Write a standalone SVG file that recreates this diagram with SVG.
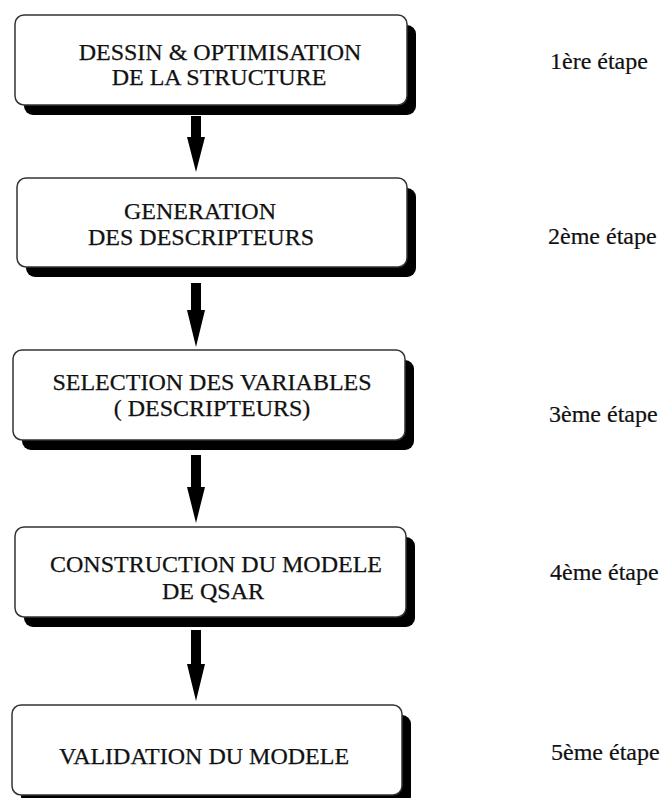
<svg xmlns="http://www.w3.org/2000/svg" width="664" height="798" viewBox="0 0 664 798">
<style>
.box{fill:#fff;stroke:#333;stroke-width:1.5}
.sh{fill:#000}
.t{font-family:"Liberation Serif","Times New Roman",serif;font-size:24px;fill:#111;stroke:#111;stroke-width:0.25;text-anchor:middle}
.lb{font-family:"Liberation Serif","Times New Roman",serif;font-size:24px;fill:#111;stroke:#111;stroke-width:0.2}
.ar{fill:#000}
</style>
<rect width="664" height="798" fill="#fff"/>
<g id="connectors">
<path class="ar" d="M191 116 H201 V137 H205 L196 172 L187 137 H191 Z"/>
<path class="ar" d="M191 283 H201 V310 H205 L196 347 L187 310 H191 Z"/>
<path class="ar" d="M191 455 H201 V487 H205 L196 523 L187 487 H191 Z"/>
<path class="ar" d="M191 630 H201 V664 H205 L196 701 L187 664 H191 Z"/>
</g>
<g id="step1">
<rect class="sh" x="24" y="25" width="392" height="90" rx="9"/>
<rect class="box" x="15" y="15" width="392" height="90" rx="9"/>
<text class="t" x="220" y="60">DESSIN &amp; OPTIMISATION</text>
<text class="t" x="219" y="85">DE LA STRUCTURE</text>
</g>
<g id="step2">
<rect class="sh" x="26" y="188" width="390" height="89" rx="9"/>
<rect class="box" x="17" y="178" width="390" height="89" rx="9"/>
<text class="t" x="200" y="219">GENERATION</text>
<text class="t" x="201" y="245">DES DESCRIPTEURS</text>
</g>
<g id="step3">
<rect class="sh" x="22" y="360" width="392" height="90" rx="9"/>
<rect class="box" x="13" y="350" width="392" height="90" rx="9"/>
<text class="t" x="212" y="390">SELECTION DES VARIABLES</text>
<text class="t" x="212" y="416">( DESCRIPTEURS)</text>
</g>
<g id="step4">
<rect class="sh" x="24" y="537" width="391" height="90" rx="9"/>
<rect class="box" x="15" y="527" width="391" height="90" rx="9"/>
<text class="t" x="216" y="572">CONSTRUCTION DU MODELE</text>
<text class="t" x="213" y="599">DE QSAR</text>
</g>
<g id="step5">
<rect class="sh" x="21" y="715" width="390" height="90" rx="9"/>
<rect class="box" x="12" y="705" width="390" height="90" rx="9"/>
<text class="t" x="204" y="764">VALIDATION DU MODELE</text>
</g>
<g id="labels">
<text class="lb" x="550" y="69">1ère étape</text>
<text class="lb" x="548" y="244">2ème étape</text>
<text class="lb" x="549" y="422">3ème étape</text>
<text class="lb" x="550" y="580">4ème étape</text>
<text class="lb" x="551" y="760">5ème étape</text>
</g>
</svg>
